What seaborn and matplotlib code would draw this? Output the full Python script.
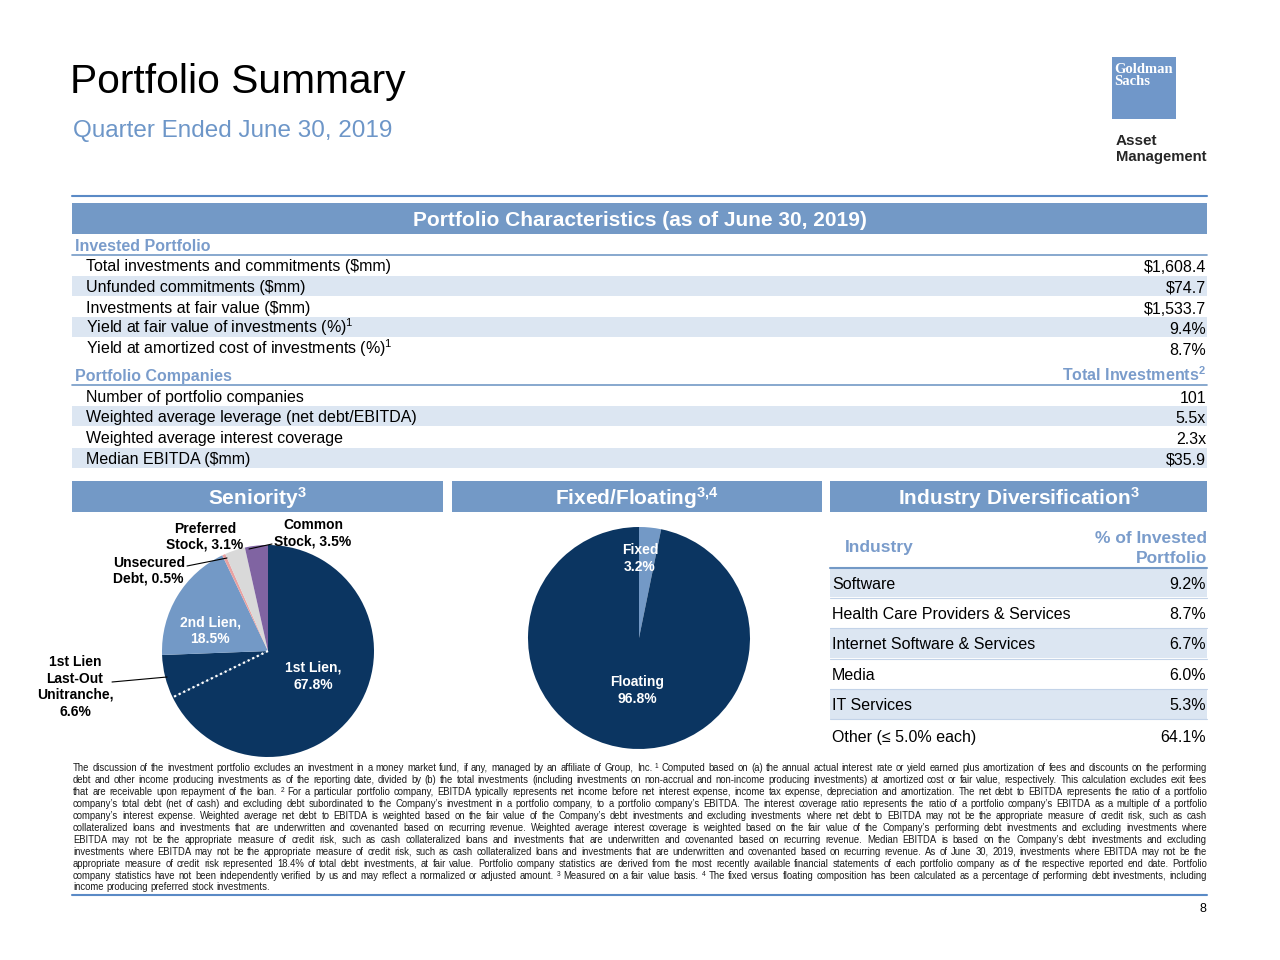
import matplotlib
matplotlib.use("Agg")
import matplotlib.pyplot as plt
import seaborn as sns
import numpy as np
from matplotlib.patches import Rectangle
from matplotlib.lines import Line2D

# ---------------- data ----------------
inv_labels = ["Total investments and commitments ($mm)", "Unfunded commitments ($mm)",
              "Investments at fair value ($mm)", "Yield at fair value of investments (%)$^1$",
              "Yield at amortized cost of investments (%)$^1$"]
inv_values = [1608.4, 74.7, 1533.7, 9.4, 8.7]
inv_formats = ["${:,.1f}", "${:,.1f}", "${:,.1f}", "{:.1f}%", "{:.1f}%"]

comp_labels = ["Number of portfolio companies", "Weighted average leverage (net debt/EBITDA)",
               "Weighted average interest coverage", "Median EBITDA ($mm)"]
comp_values = [101, 5.5, 2.3, 35.9]
comp_formats = ["{:d}", "{:.1f}x", "{:.1f}x", "${:.1f}"]

seniority_labels = ["1st Lien", "1st Lien Last-Out Unitranche", "2nd Lien",
                    "Unsecured Debt", "Preferred Stock", "Common Stock"]
seniority_values = [67.8, 6.6, 18.5, 0.5, 3.1, 3.5]

rate_labels = ["Fixed", "Floating"]
rate_values = [3.2, 96.8]

industry_labels = ["Software", "Health Care Providers & Services", "Internet Software & Services",
                   "Media", "IT Services", "Other (\u2264 5.0% each)"]
industry_values = [9.2, 8.7, 6.7, 6.0, 5.3, 64.1]

footnote_lines = [
    "The discussion of the investment portfolio excludes an investment in a money market fund, if any, managed by an affiliate of Group, Inc. \u00b9 Computed based on (a) the annual actual interest rate or yield earned plus amortization of fees and discounts on the performing",
    "debt and other income producing investments as of the reporting date, divided by (b) the total investments (including investments on non-accrual and non-income producing investments) at amortized cost or fair value, respectively. This calculation excludes exit fees",
    "that are receivable upon repayment of the loan. \u00b2 For a particular portfolio company, EBITDA typically represents net income before net interest expense, income tax expense, depreciation and amortization. The net debt to EBITDA represents the ratio of a portfolio",
    "company\u2019s total debt (net of cash) and excluding debt subordinated to the Company\u2019s investment in a portfolio company, to a portfolio company\u2019s EBITDA. The interest coverage ratio represents the ratio of a portfolio company\u2019s EBITDA as a multiple of a portfolio",
    "company\u2019s interest expense. Weighted average net debt to EBITDA is weighted based on the fair value of the Company\u2019s debt investments and excluding investments where net debt to EBITDA may not be the appropriate measure of credit risk, such as cash",
    "collateralized loans and investments that are underwritten and covenanted based on recurring revenue. Weighted average interest coverage is weighted based on the fair value of the Company\u2019s performing debt investments and excluding investments where",
    "EBITDA may not be the appropriate measure of credit risk, such as cash collateralized loans and investments that are underwritten and covenanted based on recurring revenue. Median EBITDA is based on the Company\u2019s debt investments and excluding",
    "investments where EBITDA may not be the appropriate measure of credit risk, such as cash collateralized loans and investments that are underwritten and covenanted based on recurring revenue. As of June 30, 2019, investments where EBITDA may not be the",
    "appropriate measure of credit risk represented 18.4% of total debt investments, at fair value. Portfolio company statistics are derived from the most recently available financial statements of each portfolio company as of the respective reported end date. Portfolio",
    "company statistics have not been independently verified by us and may reflect a normalized or adjusted amount. \u00b3 Measured on a fair value basis. \u2074 The fixed versus floating composition has been calculated as a percentage of performing debt investments, including",
    "income producing preferred stock investments.",
]

# ---------------- style ----------------
sns.set_theme(style="white")
plt.rcParams['font.family'] = ['Liberation Sans', 'DejaVu Sans']
plt.rcParams['mathtext.default'] = 'regular'

NAVY = "#0B3561"
MID = "#7399C6"
LIGHTTXT = "#7A9CCB"
BAND = "#DCE6F2"
LINE = "#5A8AC6"

W, H = 1280, 960
fig = plt.figure(figsize=(12.8, 9.6), dpi=100)
fig.patch.set_facecolor("white")


def fx(x):
    return x / W


def fy(y):
    return 1 - y / H


def cap_base(yc, size):
    return yc + 0.358 * size * 100 / 72


def T(x, yc, s, size, color="black", weight="normal", ha="left", **kw):
    return fig.text(fx(x), fy(cap_base(yc, size)), s, fontsize=size, color=color,
                    fontweight=weight, ha=ha, va="baseline", **kw)


def R(x0, y0, x1, y1, color, z=0):
    fig.add_artist(Rectangle((fx(x0), fy(y1)), (x1 - x0) / W, (y1 - y0) / H,
                             transform=fig.transFigure, facecolor=color,
                             edgecolor="none", zorder=z))


def L(x0, y0, x1, y1, color="black", lw=0.8, **kw):
    fig.add_artist(Line2D([fx(x0), fx(x1)], [fy(y0), fy(y1)], transform=fig.transFigure,
                          color=color, lw=lw, **kw))


# ---------------- header ----------------
fig.text(fx(70), fy(93), "Portfolio Summary", fontsize=29.3, color="black", va="baseline")
fig.text(fx(73), fy(137), "Quarter Ended June 30, 2019", fontsize=17.5, color="#6D96C8", va="baseline")

# logo
R(1112, 57, 1176, 119, "#7097C9")
fig.text(fx(1114), fy(73), "Goldman", fontsize=10.5, color="white", family="Liberation Serif",
         fontweight="bold", va="baseline")
fig.text(fx(1114), fy(85), "Sachs", fontsize=10.5, color="white", family="Liberation Serif",
         fontweight="bold", va="baseline")
fig.text(fx(1116), fy(145), "Asset", fontsize=11, fontweight="bold", va="baseline")
fig.text(fx(1116), fy(161), "Management", fontsize=10.7, fontweight="bold", va="baseline")

L(72, 196, 1207, 196, color=LINE, lw=1.5)

# ---------------- characteristics table ----------------
R(72, 203, 1207, 234, MID)
T(640, 219, "Portfolio Characteristics (as of June 30, 2019)", 15, color="white",
  weight="bold", ha="center")

T(75, 245, "Invested Portfolio", 11.5, color=LIGHTTXT, weight="bold")
L(72, 255, 1207, 255, color=MID, lw=1.2)
inv_y = [265, 286, 307, 327, 348]
for i, (lab, val, f, y) in enumerate(zip(inv_labels, inv_values, inv_formats, inv_y)):
    if i % 2 == 1:
        R(72, y - 10, 1207, y + 10, BAND)
    T(86, y, lab, 11.5)
    T(1206, y + 1, f.format(val), 11.5, ha="right")

T(75, 375, "Portfolio Companies", 11.5, color=LIGHTTXT, weight="bold")
T(1206, 375, "Total Investments$^2$", 11.5, color=LIGHTTXT, weight="bold", ha="right")
L(72, 385, 1207, 385, color=MID, lw=1.2)
comp_y = [396, 416, 437, 458]
for i, (lab, val, f, y) in enumerate(zip(comp_labels, comp_values, comp_formats, comp_y)):
    if i % 2 == 1:
        R(72, y - 10, 1207, y + 10, BAND)
    T(86, y, lab, 11.5)
    T(1206, y + 1, f.format(val), 11.5, ha="right")

# ---------------- section bars ----------------
for (x0, x1, title) in [(72, 443, "Seniority$^3$"), (452, 822, "Fixed/Floating$^{3{,}4}$"),
                        (830, 1207, "Industry Diversification$^3$")]:
    R(x0, 481, x1, 512, MID)
    T((x0 + x1) / 2, 497, title, 15, color="white", weight="bold", ha="center")

# ---------------- seniority pie ----------------
sen_colors = sns.color_palette([NAVY, NAVY, MID, "#E8A1A1", "#D9D9D9", "#8064A2"])
cx, cy, r = 268, 651, 106
ax1 = fig.add_axes([fx(cx - r), fy(cy + r), 2 * r / W, 2 * r / H])
ax1.pie(seniority_values, colors=sen_colors, startangle=90, counterclock=False,
        wedgeprops=dict(linewidth=0, antialiased=True))
ax1.set_xlim(-1, 1)
ax1.set_ylim(-1, 1)
ax1.set_aspect("equal")
ax1.axis("off")
theta = np.deg2rad(90 - 360 * seniority_values[0] / sum(seniority_values))
ax1.plot([0, 0.995 * np.cos(theta)], [0, 0.995 * np.sin(theta)], color="white", lw=1.6,
         linestyle=(0, (1, 1.3)))

PS = 10
sv = dict(zip(seniority_labels, seniority_values))
T(313, 667, "1st Lien,", PS, color="white", weight="bold", ha="center")
T(313, 684, f"{sv['1st Lien']:.1f}%", PS, color="white", weight="bold", ha="center")
T(210, 622, "2nd Lien,", PS, color="white", weight="bold", ha="center")
T(210, 638, f"{sv['2nd Lien']:.1f}%", PS, color="white", weight="bold", ha="center")
T(75, 661, "1st Lien", PS, weight="bold", ha="center")
T(75, 678, "Last-Out", PS, weight="bold", ha="center")
T(75, 694, "Unitranche,", PS, weight="bold", ha="center")
T(75, 711, f"{sv['1st Lien Last-Out Unitranche']:.1f}%", PS, weight="bold", ha="center")
T(113, 562, "Unsecured", PS, weight="bold")
T(113, 578, f"Debt, {sv['Unsecured Debt']:.1f}%", PS, weight="bold")
T(205, 528, "Preferred", PS, weight="bold", ha="center")
T(205, 544, f"Stock, {sv['Preferred Stock']:.1f}%", PS, weight="bold", ha="center")
T(313, 524, "Common", PS, weight="bold", ha="center")
T(313, 541, f"Stock, {sv['Common Stock']:.1f}%", PS, weight="bold", ha="center")
L(187, 566, 227, 558)
L(272, 544, 249, 549)
L(112, 682, 167, 677)

# ---------------- fixed / floating pie ----------------
rate_colors = sns.color_palette([MID, NAVY])
cx, cy, r = 639, 638, 111
ax2 = fig.add_axes([fx(cx - r), fy(cy + r), 2 * r / W, 2 * r / H])
ax2.pie(rate_values, colors=rate_colors, startangle=90, counterclock=False,
        wedgeprops=dict(linewidth=0))
ax2.set_xlim(-1, 1)
ax2.set_ylim(-1, 1)
ax2.set_aspect("equal")
ax2.axis("off")
T(640, 549, rate_labels[0], PS, color="white", weight="bold", ha="center")
T(640, 566, f"{rate_values[0]:.1f}%", PS, color="white", weight="bold", ha="center")
T(637, 681, rate_labels[1], PS, color="white", weight="bold", ha="center")
T(637, 698, f"{rate_values[1]:.1f}%", PS, color="white", weight="bold", ha="center")

# ---------------- industry table ----------------
T(845, 546, "Industry", 12.5, color=LIGHTTXT, weight="bold")
T(1207, 537, "% of Invested", 12.5, color=LIGHTTXT, weight="bold", ha="right")
T(1207, 557, "Portfolio", 12.5, color=LIGHTTXT, weight="bold", ha="right")
ind_y = [583, 613, 643, 674, 704, 736]
bands = [(568, 597), None, (628, 658), None, (689, 719), None]
for i, (lab, val, y) in enumerate(zip(industry_labels, industry_values, ind_y)):
    if bands[i]:
        R(830, bands[i][0], 1207, bands[i][1], BAND)
    T(832, y, lab, 11.5)
    T(1206, y, f"{val:.1f}%", 11.5, ha="right")
for yl in [597.5, 627.5, 658.5, 688.5, 719]:
    L(830, yl, 1207, yl, color="#C3D3E8", lw=0.8)
L(830, 567.5, 1207, 567.5, color=MID, lw=1.5)

# ---------------- footnotes (justified) ----------------
renderer = fig.canvas.get_renderer()
FS = 6.85
SUP = {"\u00b9": "1", "\u00b2": "2", "\u00b3": "3", "\u2074": "4"}
FCOL = "#1A1A1A"


def justify(line, yc, x0=73, x1=1207, last=False):
    words = line.split(" ")
    arts = []
    base = round(cap_base(yc, FS))
    for w in words:
        if w in SUP:
            t = fig.text(0, fy(base - 3), SUP[w], fontsize=FS * 0.7,
                         va="baseline", ha="left", color=FCOL)
        else:
            t = fig.text(0, fy(base), w, fontsize=FS, va="baseline",
                         ha="left", color=FCOL)
        arts.append(t)
    widths = [a.get_window_extent(renderer).width for a in arts]
    space = 0.278 * FS * 100 / 72
    gap = space if last else (x1 - x0 - sum(widths)) / (len(arts) - 1)
    x = x0
    for a, w in zip(arts, widths):
        a.set_x(fx(x))
        x += w + gap


for k, line in enumerate(footnote_lines):
    justify(line, 768 + 11.9 * k, last=(k == len(footnote_lines) - 1))

L(72, 895, 1207, 895, color=LINE, lw=1.5)
T(1206, 908, "8", 9, ha="right")

fig.savefig("out.png", dpi=100, facecolor="white")
